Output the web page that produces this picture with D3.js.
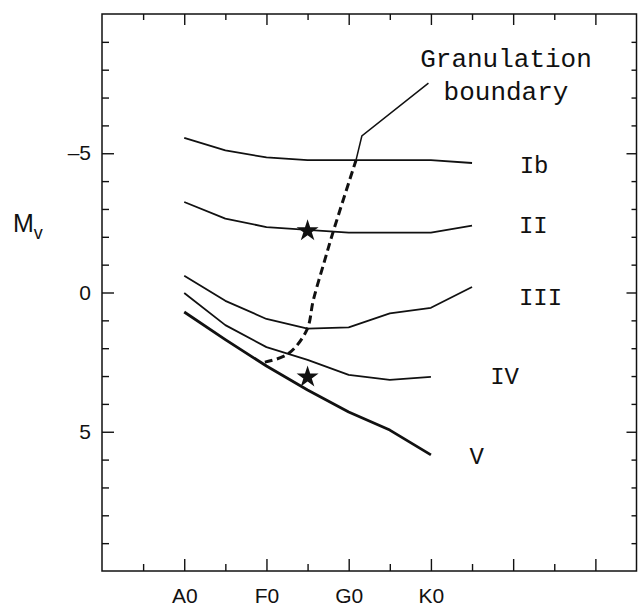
<!DOCTYPE html>
<html>
<head>
<meta charset="utf-8">
<script src="https://cdn.jsdelivr.net/npm/d3@7"></script>
<style>
  body { margin: 0; background: #fff; }
  .tick text { font-family: "Liberation Sans", Arial, sans-serif; font-size: 21px; fill: #111; }
  .plotter { font-family: "Liberation Mono", "DejaVu Sans Mono", monospace; fill: #111; }
</style>
</head>
<body>
<svg id="chart" width="638" height="608"></svg>
<script>
// spectral type position: A0 = 0, F0 = 1, G0 = 2, K0 = 3 (half steps = A5, F5 ...)
const spectral = [0, 0.5, 1, 1.5, 2, 2.5, 3, 3.5];
const typeLabels = ['A0', 'F0', 'G0', 'K0'];
const typeTicks = [0, 1, 2, 3];
const mvTicks = [-5, 0, 5];

// absolute magnitude per luminosity class
const classIb = [-5.55, -5.1, -4.85, -4.75, -4.75, -4.75, -4.75, -4.65];
const classII = [-3.25, -2.65, -2.35, -2.25, -2.15, -2.15, -2.15, -2.4];
const classIII = [-0.6, 0.3, 0.95, 1.3, 1.25, 0.75, 0.55, -0.2];
const classIV = [0.02, 1.17, 1.96, 2.42, 2.96, 3.14, 3.03];
const classV = [0.7, 1.69, 2.64, 3.5, 4.29, 4.94, 5.83];

// granulation boundary (dashed) and its label leader
const boundaryX = [0.98, 1.26, 1.49, 1.57, 1.71, 1.81, 2.09];
const boundaryY = [2.5, 2.21, 1.35, 0.27, -1.17, -2.17, -4.76];
const leaderX = [2.09, 2.16, 2.97];
const leaderY = [-4.76, -5.62, -7.52];

// the two stars
const starX = [1.5, 1.5];
const starY = [-2.25, 3.0];

const svg = d3.select('#chart');

const x = d3.scaleLinear().domain([-1, 5.5]).range([102, 636.5]);
const y = d3.scaleLinear().domain([-10, 10]).range([14, 571]);

const x0 = x.range()[0], x1 = x.range()[1];
const y0 = y.range()[0], y1 = y.range()[1];

const minorX = d3.range(-0.5, 5.5, 0.5).filter(d => !Number.isInteger(d));
const majorX = d3.range(0, 6, 1);
const minorY = d3.range(-9, 10, 1).filter(d => d % 5 !== 0);

// frame
svg.append('rect')
  .attr('x', x0).attr('y', y0)
  .attr('width', x1 - x0).attr('height', y1 - y0)
  .attr('fill', 'none').attr('stroke', '#111').attr('stroke-width', 1.5);

function tickAxis(axis, transform, values, size) {
  const g = svg.append('g')
    .attr('transform', transform)
    .call(axis.tickValues(values).tickSizeInner(size).tickSizeOuter(0).tickFormat(''));
  g.select('.domain').remove();
  g.selectAll('line').attr('stroke', '#111').attr('stroke-width', 1.4);
  return g;
}

// bottom
tickAxis(d3.axisBottom(x), `translate(0,${y1})`, majorX, -12);
tickAxis(d3.axisBottom(x), `translate(0,${y1})`, minorX, -7);
// top
tickAxis(d3.axisTop(x), `translate(0,${y0})`, majorX, -11);
tickAxis(d3.axisTop(x), `translate(0,${y0})`, minorX, -6);
// left
tickAxis(d3.axisLeft(y), `translate(${x0},0)`, mvTicks, -12);
tickAxis(d3.axisLeft(y), `translate(${x0},0)`, minorY, -7);
// right
tickAxis(d3.axisRight(y), `translate(${x1},0)`, mvTicks, -10);
tickAxis(d3.axisRight(y), `translate(${x1},0)`, minorY, -5);

// labels
const xLab = svg.append('g')
  .attr('transform', `translate(0,${y1})`)
  .call(d3.axisBottom(x).tickValues(typeTicks).tickSize(0).tickPadding(17)
    .tickFormat((d, i) => typeLabels[i]));
xLab.select('.domain').remove();
xLab.selectAll('text').attr('font-size', 22);

const yLab = svg.append('g')
  .attr('transform', `translate(${x0},0)`)
  .call(d3.axisLeft(y).tickValues(mvTicks).tickSize(0).tickPadding(11)
    .tickFormat(d => d < 0 ? '\u2013' + Math.abs(d) : d));
yLab.select('.domain').remove();
yLab.selectAll('text').attr('font-size', 22);

const mv = svg.append('text')
  .attr('x', 13).attr('y', 232)
  .attr('font-family', '"Liberation Sans", Arial, sans-serif')
  .attr('font-size', 25).attr('fill', '#111');
mv.append('tspan').text('M');
mv.append('tspan').attr('font-size', 18).attr('dy', 7).text('v');

const line = d3.line().x(d => x(d[0])).y(d => y(d[1]));

const series = [
  { v: classIb, w: 1.8 },
  { v: classII, w: 1.8 },
  { v: classIII, w: 1.8 },
  { v: classIV, w: 1.8 },
  { v: classV, w: 2.8 }
];

series.forEach(s => {
  svg.append('path')
    .datum(s.v.map((m, i) => [spectral[i], m]))
    .attr('d', line)
    .attr('fill', 'none')
    .attr('stroke', '#111')
    .attr('stroke-width', s.w)
    .attr('stroke-linejoin', 'round');
});

svg.append('path')
  .datum(boundaryX.map((b, i) => [b, boundaryY[i]]))
  .attr('d', line.curve(d3.curveCatmullRom))
  .attr('fill', 'none')
  .attr('stroke', '#111')
  .attr('stroke-width', 3)
  .attr('stroke-dasharray', '8,4.5');

svg.append('path')
  .datum(leaderX.map((b, i) => [b, leaderY[i]]))
  .attr('d', line.curve(d3.curveLinear))
  .attr('fill', 'none')
  .attr('stroke', '#111')
  .attr('stroke-width', 1.5);

svg.selectAll('.star')
  .data(starX.map((s, i) => [s, starY[i]]))
  .enter()
  .append('path')
  .attr('class', 'star')
  .attr('transform', d => `translate(${x(d[0])},${y(d[1]) + 1})`)
  .attr('d', d3.symbol(d3.symbolStar, 150))
  .attr('fill', '#111');

// annotations
svg.append('text').attr('class', 'plotter')
  .attr('x', 506).attr('y', 67).attr('text-anchor', 'middle')
  .attr('font-size', 26).text('Granulation');
svg.append('text').attr('class', 'plotter')
  .attr('x', 506).attr('y', 100).attr('text-anchor', 'middle')
  .attr('font-size', 26).text('boundary');

const classNames = ['Ib', 'II', 'III', 'IV', 'V'];
const namePos = [[4.08, -4.3], [4.07, -2.14], [4.07, 0.45], [3.72, 3.28], [3.47, 6.15]];
classNames.forEach((n, i) => {
  svg.append('text').attr('class', 'plotter')
    .attr('x', x(namePos[i][0])).attr('y', y(namePos[i][1]))
    .attr('font-size', 24).text(n);
});
</script>
</body>
</html>
